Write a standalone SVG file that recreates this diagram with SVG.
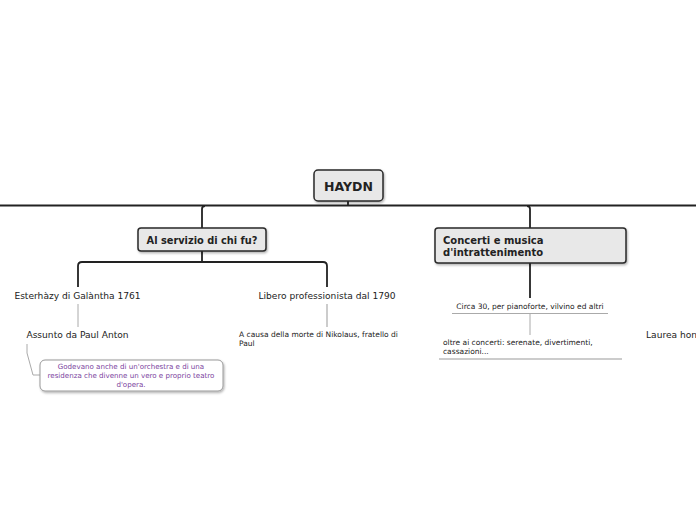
<svg xmlns="http://www.w3.org/2000/svg" width="696" height="520" viewBox="0 0 696 520">
<defs>
<filter id="sh" x="-10%" y="-20%" width="120%" height="150%">
<feDropShadow dx="1" dy="1.5" stdDeviation="1" flood-color="#000" flood-opacity="0.3"/>
</filter>
</defs>
<style>
.main{fill:#e8e8e8;stroke:#2a2a2a;stroke-width:1.5}
.note{fill:#fff;stroke:#999;stroke-width:1}
.t{font-family:"DejaVu Sans",Verdana,sans-serif;fill:#222}
.b{font-weight:bold}
.dk{fill:none;stroke:#222;stroke-width:1.8}
.gr{fill:none;stroke:#aaa;stroke-width:1}
.lg{fill:none;stroke:#ccc;stroke-width:2}
.pu{fill:#7b3f9e}
</style>
<rect width="696" height="520" fill="#fff"/>
<g id="connectors">
<path class="dk" d="M0 205.5 H696" stroke-width="2"/>
<path class="dk" d="M348 201 V206"/>
<path class="dk" d="M202 228 V209 Q202 206 205 206"/>
<path class="dk" d="M530 228 V209 Q530 206 527 206"/>
<path class="dk" d="M202 251 V262"/>
<path class="dk" d="M78 287 V266 Q78 262 82 262 H323 Q327 262 327 266 V287" stroke-width="1.4"/>
<path class="gr" d="M78 304 V327"/>
<path class="lg" d="M327 304 V327"/>
<path class="dk" d="M530 263 V298" stroke-width="2"/>
<path class="gr" d="M452 313.5 H608" stroke="#888"/>
<path class="gr" d="M530 313 V335"/>
<path class="lg" d="M439 359 H622"/>
<path class="gr" d="M27 344 V353 L33 375 H40" stroke="#999"/>
</g>
<g id="haydn">
<rect class="main" x="314" y="170" width="69" height="31" rx="4" filter="url(#sh)"/>
<text class="t b" x="348.5" y="190.5" font-size="12.5" text-anchor="middle">HAYDN</text>
</g>
<g id="servizio">
<rect class="main" x="138" y="228" width="128" height="23" rx="3" filter="url(#sh)"/>
<text class="t b" x="202" y="243.5" font-size="9.8" text-anchor="middle">Al servizio di chi fu?</text>
</g>
<g id="esterhazy">
<text class="t" x="77.5" y="299" font-size="9.1" text-anchor="middle">Esterhàzy di Galàntha 1761</text>
</g>
<g id="assunto">
<text class="t" x="77.5" y="338" font-size="9.1" text-anchor="middle">Assunto da Paul Anton</text>
</g>
<g id="callout">
<rect class="note" x="40" y="360" width="183" height="31" rx="5" filter="url(#sh)"/>
<text class="t pu" font-size="7.1" text-anchor="middle"><tspan x="131" y="369">Godevano anche di un'orchestra e di una</tspan><tspan x="131" y="378">residenza che divenne un vero e proprio teatro</tspan><tspan x="131" y="386.5">d'opera.</tspan></text>
</g>
<g id="libero">
<text class="t" x="327" y="299" font-size="9.1" text-anchor="middle">Libero professionista dal 1790</text>
</g>
<g id="causa">
<text class="t" font-size="7.5"><tspan x="239" y="337">A causa della morte di Nikolaus, fratello di</tspan><tspan x="239" y="346">Paul</tspan></text>
</g>
<g id="concerti">
<rect class="main" x="435" y="228" width="191" height="35" rx="3" filter="url(#sh)"/>
<text class="t b" font-size="10"><tspan x="443" y="243.5">Concerti e musica</tspan><tspan x="443" y="255.5">d'intrattenimento</tspan></text>
</g>
<g id="circa">
<text class="t" x="530" y="309" font-size="7.5" text-anchor="middle">Circa 30, per pianoforte, vilvino ed altri</text>
</g>
<g id="oltre">
<text class="t" font-size="7.5"><tspan x="443" y="345">oltre ai concerti: serenate, divertimenti,</tspan><tspan x="443" y="354">cassazioni...</tspan></text>
</g>
<g id="laurea">
<text class="t" x="646" y="338" font-size="9.1">Laurea hon</text>
</g>
</svg>
